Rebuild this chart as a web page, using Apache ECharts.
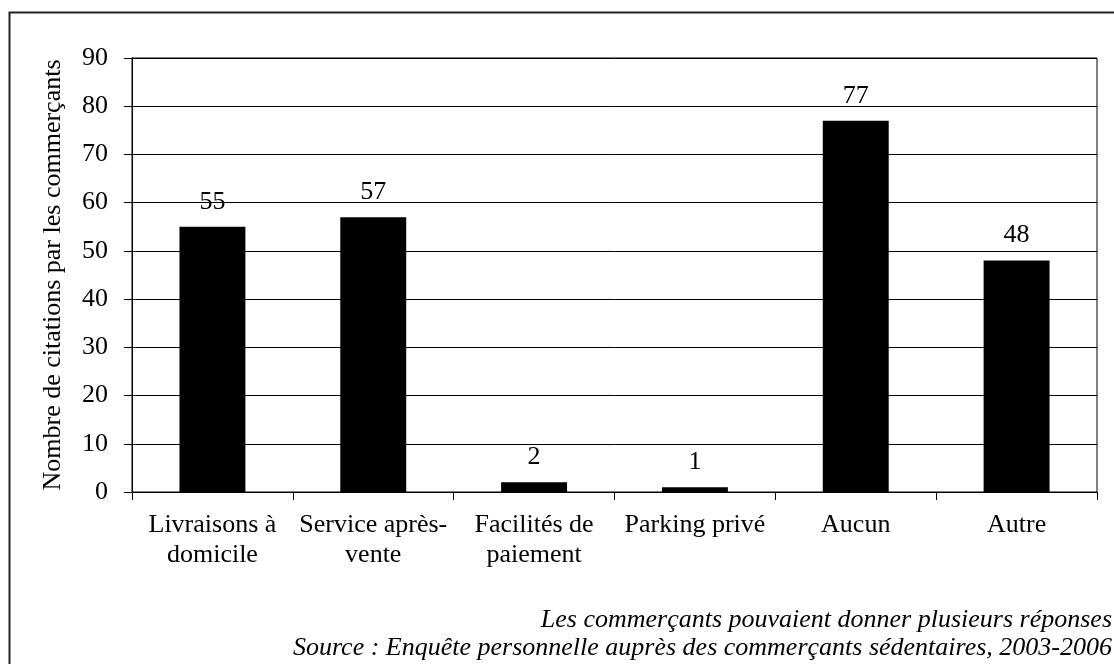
<!DOCTYPE html>
<html>
<head>
<meta charset="utf-8">
<script src="https://cdn.jsdelivr.net/npm/echarts@6/dist/echarts.min.js"></script>
<style>
  html, body { margin: 0; padding: 0; background: #fff; }
  #chart { width: 1114px; height: 664px; }
</style>
</head>
<body>
<div id="chart"></div>
<script>
// Services offered by shopkeepers (number of mentions)
const categories = ['Livraisons à\ndomicile', 'Service après-\nvente', 'Facilités de\npaiement', 'Parking privé', 'Aucun', 'Autre'];
const citations = [55, 57, 2, 1, 77, 48];
const yTicks = [0, 10, 20, 30, 40, 50, 60, 70, 80, 90];
const yTitle = 'Nombre de citations par les commerçants';
const noteLines = [
  'Les commerçants pouvaient donner plusieurs réponses',
  'Source : Enquête personnelle auprès des commerçants sédentaires, 2003-2006'
];

const serif = '"Liberation Serif", "Times New Roman", serif';
const chart = echarts.init(document.getElementById('chart'), null, { renderer: 'canvas' });

// one right-aligned italic line per note
const noteGraphics = noteLines.map((line, i) => ({
  type: 'text',
  x: 1112, y: 620 + i * 28,
  style: {
    text: line,
    fill: '#000',
    font: 'italic 26px ' + serif,
    align: 'right',
    verticalAlign: 'middle'
  }
}));

chart.setOption({
  animation: false,
  backgroundColor: '#fff',
  grid: {
    left: 132, right: 17, top: 58, bottom: 172,
    show: true, borderColor: '#000', borderWidth: 1, backgroundColor: 'transparent'
  },
  xAxis: {
    type: 'category',
    data: categories,
    boundaryGap: true,
    axisLine: { lineStyle: { color: '#000', width: 1 } },
    axisTick: { show: true, length: 8, alignWithLabel: false, lineStyle: { color: '#000' } },
    axisLabel: {
      color: '#000', fontFamily: serif, fontSize: 26, lineHeight: 30,
      margin: 18, interval: 0
    }
  },
  yAxis: {
    type: 'value',
    min: yTicks[0], max: yTicks[yTicks.length - 1], interval: 10,
    name: yTitle,
    nameLocation: 'middle',
    nameGap: 66,
    nameRotate: 90,
    nameTextStyle: { color: '#000', fontFamily: serif, fontSize: 26 },
    axisLine: { show: true, lineStyle: { color: '#000', width: 1 } },
    axisTick: { show: true, length: 8, lineStyle: { color: '#000' } },
    axisLabel: { color: '#000', fontFamily: serif, fontSize: 26, margin: 24 },
    splitLine: { show: true, lineStyle: { color: '#000', width: 1 } }
  },
  series: [{
    type: 'bar',
    data: citations,
    barWidth: '41%',
    itemStyle: { color: '#000' },
    label: {
      show: true, position: 'top', distance: 12,
      color: '#000', fontFamily: serif, fontSize: 26
    }
  }],
  graphic: [
    {
      type: 'rect',
      shape: { x: 9.5, y: 12.5, width: 1300, height: 800 },
      style: { fill: 'none', stroke: '#222', lineWidth: 2 },
      silent: true
    }
  ].concat(noteGraphics)
});
</script>
</body>
</html>
